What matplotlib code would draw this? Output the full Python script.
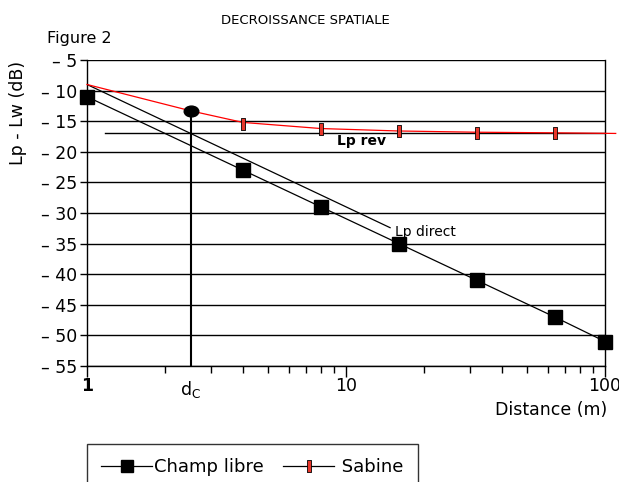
import matplotlib.pyplot as plt
from matplotlib.lines import Line2D
from matplotlib.path import Path
from matplotlib.transforms import Affine2D

# distances (m) and levels (dB)
dist_libre = [1, 4, 8, 16, 32, 64, 100]
lp_libre = [-11, -23, -29, -35, -41, -47, -51]

dist_sabine = [4, 8, 16, 32, 64]
lp_sabine = [-15.5, -16.2, -16.6, -16.9, -17.0]

dist_total = [1, 2.51, 4, 8, 16, 32, 64, 110]
lp_total = [-9, -13.3, -15.2, -16.2, -16.6, -16.8, -16.9, -17.0]

dist_direct = [1, 14.8]
lp_direct = [-9, -32.4]

dist_rev = [1.17, 100]
lp_rev = [-17, -17]

dc = 2.51
lp_dc = -13.3

yticks = [-5, -10, -15, -20, -25, -30, -35, -40, -45, -50, -55]
ytick_labels = ['\u2013 ' + str(-v) for v in yticks]

rect = [(-0.28, -1), (0.28, -1), (0.28, 1), (-0.28, 1), (-0.28, -1)]
ellipse = Path.unit_circle().transformed(Affine2D().scale(1, 0.74))

fig = plt.figure(figsize=(6.19, 4.82), dpi=100)
ax = fig.add_axes([87 / 619, 1 - 366 / 482, 518 / 619, 306 / 482])
ax.set_xscale('log')
ax.set_xlim(1, 100)
ax.set_ylim(-55, -5)

for v in yticks:
    ax.axhline(v, color='black', lw=1, zorder=1)

ax.plot(dist_rev, lp_rev, color='black', lw=1, zorder=2)
ax.plot(dist_direct, lp_direct, color='black', lw=0.9, zorder=2)
ax.plot(dist_total, lp_total, color='red', lw=0.9, zorder=3, clip_on=False)
ax.plot(dist_libre, lp_libre, color='black', lw=0.9, marker='s', ms=9.5, zorder=4,
        clip_on=False)
ax.plot(dist_sabine, lp_sabine, ls='none', marker=rect, ms=8, mfc='#e8362a',
        mec='black', mew=0.6, zorder=5)
ax.plot([dc, dc], [-55, lp_dc], color='black', lw=1.5, zorder=3)
ax.plot([dc], [lp_dc], marker=ellipse, ms=10.5, color='black', zorder=6)

ax.text(15.5, -33.1, 'Lp direct', fontsize=10, va='center', ha='left')
ax.text(9.2, -18.3, 'Lp rev', fontsize=10, fontweight='heavy', va='center',
        ha='left')

ax.set_yticks(yticks)
ax.set_yticklabels(ytick_labels, fontsize=12.5)
ax.tick_params(axis='y', length=5, width=1, direction='out', pad=2)

ax.set_xticks([1, 10, 100])
ax.set_xticklabels(['1', '10', '100'], fontsize=12.5)
ax.get_xticklabels()[0].set_fontweight('bold')
ax.tick_params(axis='x', which='major', length=8, width=1, direction='out', pad=0)
ax.tick_params(axis='x', which='minor', length=5, width=1, direction='out',
               labelbottom=False)
ax.text(dc, -58.8, 'd$_\\mathregular{C}$', fontsize=12.5, ha='center', va='center')

for s in ax.spines.values():
    s.set_color('black')
    s.set_linewidth(1)
ax.spines['top'].set_visible(False)

fig.text(607 / 619, 1 - 410 / 482, 'Distance (m)', fontsize=12.5, ha='right',
         va='center')
fig.text(18 / 619, 1 - 113 / 482, 'Lp - Lw (dB)', fontsize=12.5, rotation=90,
         ha='center', va='center')
fig.text(305 / 619, 1 - 20 / 482, 'DECROISSANCE SPATIALE', fontsize=9.5,
         ha='center', va='center')
fig.text(47 / 619, 1 - 38 / 482, 'Figure 2', fontsize=11.5, ha='left', va='center')

handles = [
    Line2D([], [], color='black', lw=0.9, marker='s', ms=9),
    Line2D([], [], color='black', lw=0.9, marker=rect, ms=8, mfc='#e8362a',
           mec='black', mew=0.6),
]
leg = fig.legend(handles, ['Champ libre', ' Sabine'], loc='upper left',
                 bbox_to_anchor=(87 / 619, 1 - 444 / 482), borderaxespad=0,
                 ncol=2, fontsize=13, frameon=True, fancybox=False,
                 handlelength=2.8, handletextpad=0.1, columnspacing=1.1,
                 borderpad=0.8)
leg.get_frame().set_edgecolor('black')
leg.get_frame().set_linewidth(1)

fig.savefig('out.png', dpi=100)
